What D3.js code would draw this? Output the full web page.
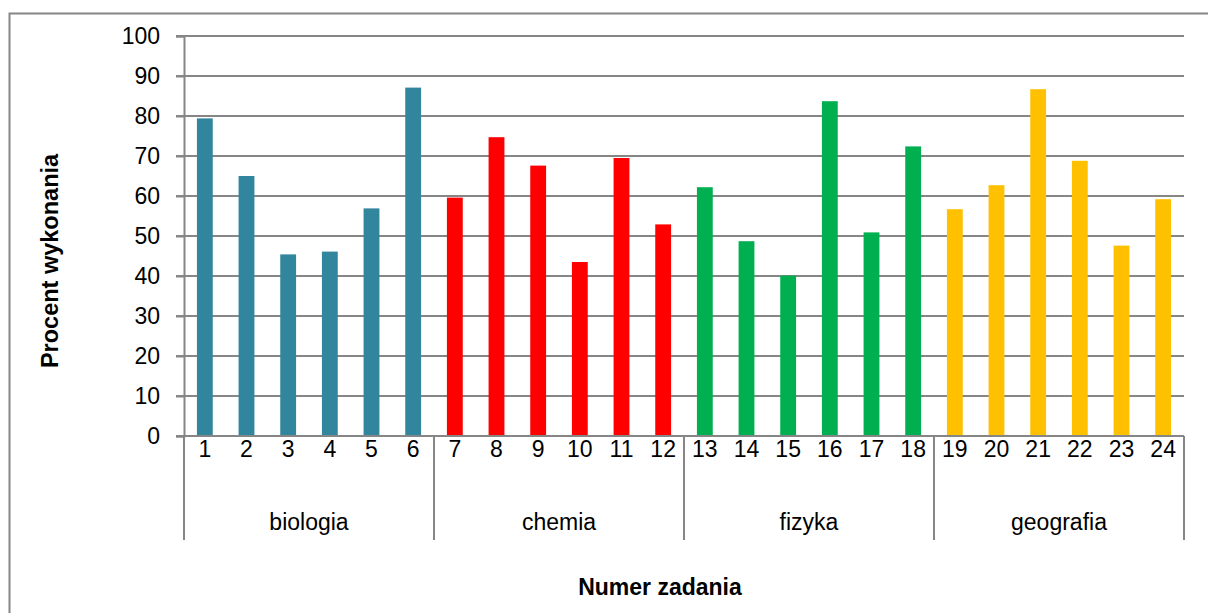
<!DOCTYPE html>
<html>
<head>
<meta charset="utf-8">
<script src="https://cdn.jsdelivr.net/npm/d3@7"></script>
<style>
  body { margin: 0; background: #fff; }
  text { font-family: "Liberation Sans", Arial, sans-serif; fill: #000; }
</style>
</head>
<body>
<div id="chart"></div>
<script>
var zadania = d3.range(1, 25).map(String);
var przedmioty = ["biologia", "chemia", "fizyka", "geografia"];
var kolory = ["#31859C", "#FF0000", "#00B050", "#FFC000"];
var biologia = [79.4, 65.0, 45.4, 46.1, 56.9, 87.1];
var chemia = [59.6, 74.7, 67.6, 43.5, 69.5, 52.9];
var fizyka = [62.2, 48.7, 40.1, 83.7, 50.9, 72.4];
var geografia = [56.7, 62.7, 86.7, 68.8, 47.6, 59.2];
var yTicks = [0, 10, 20, 30, 40, 50, 60, 70, 80, 90, 100];

function wykres() {
    var data = [];
    [biologia, chemia, fizyka, geografia].forEach(function(seria, g) {
        seria.forEach(function(v, i) {
            data.push({ group: g, nr: zadania[g * 6 + i], value: v });
        });
    });

    var W = 1208, H = 613;
    var m = { left: 184, right: 1184, top: 36, bottom: 436 };

    var svg = d3.select("#chart")
      .append("svg")
        .attr("width", W)
        .attr("height", H);

    // ramka (widoczna lewa i gorna krawedz)
    svg.append("path")
        .attr("d", "M9.5," + H + "V13.5H" + (W + 5))
        .attr("fill", "none")
        .attr("stroke", "#868686")
        .attr("stroke-width", 2);

    var x = d3.scaleBand()
        .domain(zadania)
        .range([m.left, m.right])
        .paddingInner(0.62)
        .paddingOuter(0.31);

    var y = d3.scaleLinear()
        .domain([0, 100])
        .range([m.bottom, m.top]);

    // siatka
    svg.append("g")
      .selectAll("line")
      .data(yTicks)
      .enter()
      .append("line")
        .attr("x1", m.left - 8)
        .attr("x2", m.right)
        .attr("y1", function(v) { return y(v); })
        .attr("y2", function(v) { return y(v); })
        .attr("stroke", "#868686")
        .attr("stroke-width", 2);

    // os Y
    var yAxis = svg.append("g")
        .attr("transform", "translate(" + m.left + ",0)")
        .call(d3.axisLeft(y).tickValues(yTicks).tickSize(8).tickPadding(16));
    yAxis.select(".domain").attr("stroke", "#868686").attr("stroke-width", 2);
    yAxis.selectAll(".tick line").attr("stroke", "#868686").attr("stroke-width", 2);
    yAxis.selectAll("text")
        .style("font-family", "Liberation Sans, Arial, sans-serif")
        .style("font-size", "23px")
        .attr("fill", "#000");

    // slupki
    svg.selectAll("rect.bar")
      .data(data)
      .enter()
      .append("rect")
        .attr("class", "bar")
        .attr("x", function(v) { return x(v.nr); })
        .attr("y", function(v) { return y(v.value); })
        .attr("width", x.bandwidth())
        .attr("height", function(v) { return y(0) - y(v.value); })
        .attr("fill", function(v) { return kolory[v.group]; });

    // linia osi X
    svg.append("line")
        .attr("x1", m.left).attr("x2", m.right)
        .attr("y1", m.bottom).attr("y2", m.bottom)
        .attr("stroke", "#868686")
        .attr("stroke-width", 2);

    // numery zadan
    svg.append("g")
      .selectAll("text")
      .data(zadania)
      .enter()
      .append("text")
        .attr("x", function(v) { return x(v) + x.bandwidth() / 2; })
        .attr("y", 457)
        .attr("text-anchor", "middle")
        .style("font-size", "23px")
        .text(function(v) { return v; });

    // separatory grup
    var step = (m.right - m.left) / przedmioty.length;
    svg.append("g")
      .selectAll("line")
      .data(d3.range(przedmioty.length + 1))
      .enter()
      .append("line")
        .attr("x1", function(i) { return m.left + i * step; })
        .attr("x2", function(i) { return m.left + i * step; })
        .attr("y1", m.bottom)
        .attr("y2", 540)
        .attr("stroke", "#868686")
        .attr("stroke-width", 2);

    // nazwy przedmiotow
    svg.append("g")
      .selectAll("text")
      .data(przedmioty)
      .enter()
      .append("text")
        .attr("x", function(v, i) { return m.left + (i + 0.5) * step; })
        .attr("y", 530)
        .attr("text-anchor", "middle")
        .style("font-size", "23px")
        .text(function(v) { return v; });

    // tytuly osi
    svg.append("text")
        .attr("x", 660)
        .attr("y", 595)
        .attr("text-anchor", "middle")
        .style("font-size", "23px")
        .style("font-weight", "bold")
        .text("Numer zadania");

    svg.append("text")
        .attr("transform", "translate(58,261) rotate(-90)")
        .attr("text-anchor", "middle")
        .style("font-size", "23.5px")
        .style("font-weight", "bold")
        .text("Procent wykonania");
}

wykres();
</script>
</body>
</html>
